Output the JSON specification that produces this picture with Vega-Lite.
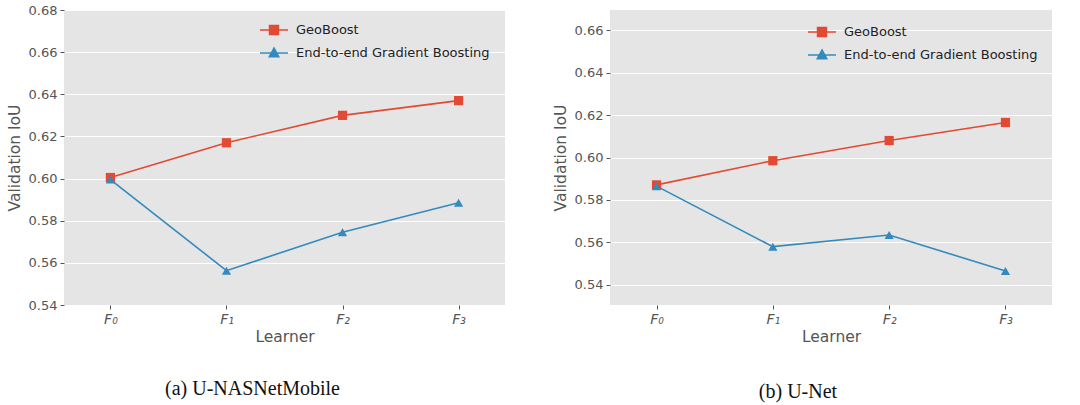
{
  "$schema": "https://vega.github.io/schema/vega-lite/v6.json",
  "autosize": {"type": "pad"},
  "padding": {"left": 7, "top": 4, "right": 10, "bottom": 5},
  "background": "white",
  "datasets": {
    "a": [
      {"learner": "F₀", "method": "GeoBoost", "iou": 0.6005},
      {"learner": "F₁", "method": "GeoBoost", "iou": 0.617},
      {"learner": "F₂", "method": "GeoBoost", "iou": 0.630},
      {"learner": "F₃", "method": "GeoBoost", "iou": 0.637},
      {"learner": "F₀", "method": "End-to-end Gradient Boosting", "iou": 0.5995},
      {"learner": "F₁", "method": "End-to-end Gradient Boosting", "iou": 0.5563},
      {"learner": "F₂", "method": "End-to-end Gradient Boosting", "iou": 0.5745},
      {"learner": "F₃", "method": "End-to-end Gradient Boosting", "iou": 0.5885}
    ],
    "b": [
      {"learner": "F₀", "method": "GeoBoost", "iou": 0.5871},
      {"learner": "F₁", "method": "GeoBoost", "iou": 0.5985},
      {"learner": "F₂", "method": "GeoBoost", "iou": 0.608},
      {"learner": "F₃", "method": "GeoBoost", "iou": 0.6165},
      {"learner": "F₀", "method": "End-to-end Gradient Boosting", "iou": 0.5865},
      {"learner": "F₁", "method": "End-to-end Gradient Boosting", "iou": 0.558},
      {"learner": "F₂", "method": "End-to-end Gradient Boosting", "iou": 0.5635},
      {"learner": "F₃", "method": "End-to-end Gradient Boosting", "iou": 0.5465}
    ]
  },
  "config": {
    "view": {"fill": "#E5E5E5", "stroke": null},
    "font": "DejaVu Sans",
    "axis": {
      "domain": false,
      "tickColor": "#555555",
      "tickSize": 4,
      "labelColor": "#555555",
      "labelFont": "DejaVu Sans",
      "labelFontSize": 13,
      "labelPadding": 3,
      "titleFont": "DejaVu Sans",
      "titleFontSize": 15.5,
      "titleFontWeight": "normal",
      "titleColor": "#555555",
      "gridColor": "#FFFFFF",
      "gridWidth": 1.2,
      "gridOpacity": 1
    },
    "legend": {
      "orient": "none",
      "title": null,
      "padding": 0,
      "labelFont": "DejaVu Sans",
      "labelFontSize": 13,
      "labelColor": "#222222",
      "labelLimit": 400,
      "rowPadding": -5,
      "labelOffset": 7,
      "symbolSize": 784
    },
    "title": {
      "orient": "bottom",
      "font": "Liberation Serif",
      "fontSize": 20,
      "fontWeight": "normal",
      "color": "#111111",
      "anchor": "middle"
    }
  },
  "bounds": "flush",
  "spacing": 105,
  "resolve": {
    "scale": {"color": "independent", "y": "independent", "x": "independent"},
    "legend": {"color": "independent"}
  },
  "hconcat": [
    {
      "width": 441,
      "height": 295,
      "title": {"text": "(a) U-NASNetMobile", "dx": -32, "offset": 34},
      "data": {"name": "a"},
      "encoding": {
        "x": {
          "field": "learner", "type": "ordinal",
          "sort": ["F₀", "F₁", "F₂", "F₃"],
          "scale": {"type": "point", "padding": 0.4},
          "axis": {"title": "Learner", "labelAngle": 0, "labelFontStyle": "italic", "labelFontSize": 14, "titlePadding": 3}
        },
        "y": {
          "field": "iou", "type": "quantitative",
          "scale": {"domain": [0.54, 0.68], "zero": false, "nice": false},
          "axis": {"title": "Validation IoU", "values": [0.54, 0.56, 0.58, 0.6, 0.62, 0.64, 0.66, 0.68], "format": ".2f", "titlePadding": 6}
        },
        "color": {
          "field": "method", "type": "nominal",
          "scale": {"domain": ["GeoBoost", "End-to-end Gradient Boosting"], "range": ["#E24A33", "#348ABD"]},
          "legend": {
            "legendX": 195, "legendY": 5,
            "encode": {"symbols": {"update": {
              "shape": {"signal": "datum.label == 'GeoBoost' ? 'M-1,0H1M-0.32,-0.32H0.32V0.32H-0.32Z' : 'M-1,0H1M0,-0.36L0.34,0.26H-0.34Z'"},
              "fill": {"signal": "datum.label == 'GeoBoost' ? '#E24A33' : '#348ABD'"},
              "stroke": {"signal": "datum.label == 'GeoBoost' ? '#E24A33' : '#348ABD'"},
              "strokeWidth": {"value": 1.5},
              "opacity": {"value": 1},
              "fillOpacity": {"value": 1}
            }}}
          }
        }
      },
      "layer": [
        {"mark": {"type": "line", "strokeWidth": 1.6}},
        {
          "mark": {"type": "point", "filled": true, "opacity": 1, "size": 85, "shape": "square"},
          "transform": [{"filter": "datum.method == 'GeoBoost'"}]
        },
        {
          "mark": {"type": "point", "filled": true, "opacity": 1, "size": 85, "shape": "triangle-up"},
          "transform": [{"filter": "datum.method != 'GeoBoost'"}]
        }
      ]
    },
    {
      "width": 442,
      "height": 295,
      "title": {"text": "(b) U-Net", "dx": -33, "offset": 37},
      "data": {"name": "b"},
      "encoding": {
        "x": {
          "field": "learner", "type": "ordinal",
          "sort": ["F₀", "F₁", "F₂", "F₃"],
          "scale": {"type": "point", "padding": 0.4},
          "axis": {"title": "Learner", "labelAngle": 0, "labelFontStyle": "italic", "labelFontSize": 14, "titlePadding": 3}
        },
        "y": {
          "field": "iou", "type": "quantitative",
          "scale": {"domain": [0.5305, 0.6695], "zero": false, "nice": false},
          "axis": {"title": "Validation IoU", "values": [0.54, 0.56, 0.58, 0.6, 0.62, 0.64, 0.66], "format": ".2f", "titlePadding": 6}
        },
        "color": {
          "field": "method", "type": "nominal",
          "scale": {"domain": ["GeoBoost", "End-to-end Gradient Boosting"], "range": ["#E24A33", "#348ABD"]},
          "legend": {
            "legendX": 197, "legendY": 7,
            "encode": {"symbols": {"update": {
              "shape": {"signal": "datum.label == 'GeoBoost' ? 'M-1,0H1M-0.32,-0.32H0.32V0.32H-0.32Z' : 'M-1,0H1M0,-0.36L0.34,0.26H-0.34Z'"},
              "fill": {"signal": "datum.label == 'GeoBoost' ? '#E24A33' : '#348ABD'"},
              "stroke": {"signal": "datum.label == 'GeoBoost' ? '#E24A33' : '#348ABD'"},
              "strokeWidth": {"value": 1.5},
              "opacity": {"value": 1},
              "fillOpacity": {"value": 1}
            }}}
          }
        }
      },
      "layer": [
        {"mark": {"type": "line", "strokeWidth": 1.6}},
        {
          "mark": {"type": "point", "filled": true, "opacity": 1, "size": 85, "shape": "square"},
          "transform": [{"filter": "datum.method == 'GeoBoost'"}]
        },
        {
          "mark": {"type": "point", "filled": true, "opacity": 1, "size": 85, "shape": "triangle-up"},
          "transform": [{"filter": "datum.method != 'GeoBoost'"}]
        }
      ]
    }
  ]
}
